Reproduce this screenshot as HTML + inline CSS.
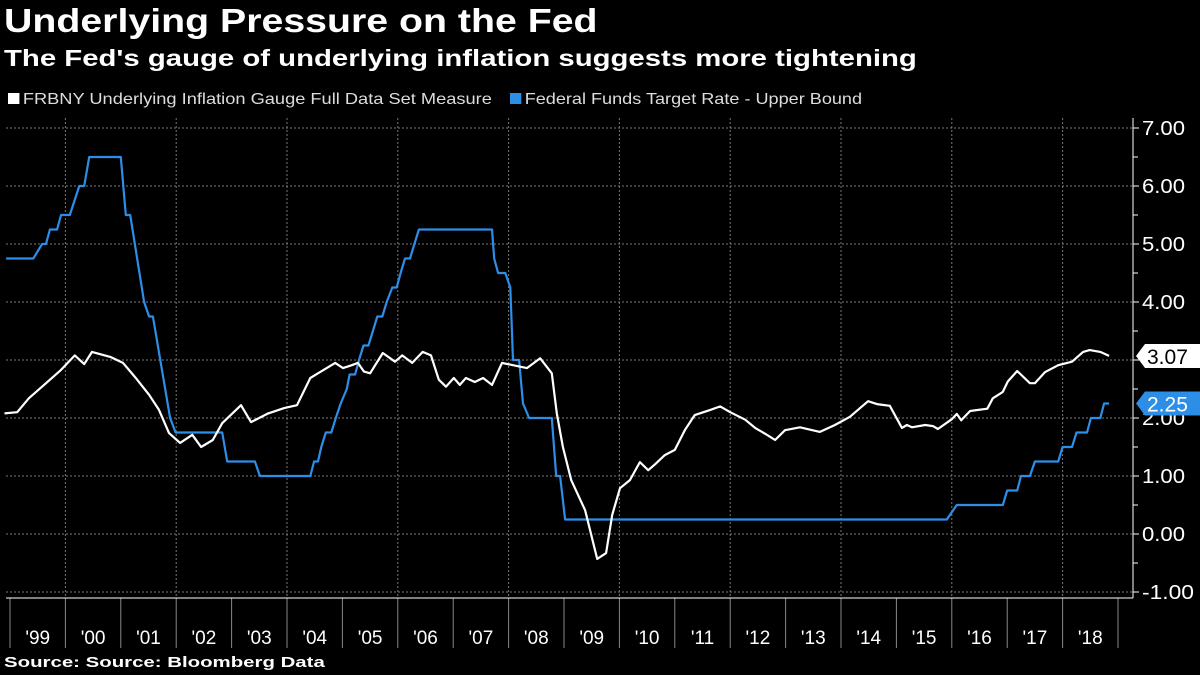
<!DOCTYPE html>
<html><head><meta charset="utf-8"><style>
html,body{margin:0;padding:0;background:#000;}
#wrap{position:relative;width:1200px;height:675px;background:#000;overflow:hidden;font-family:"Liberation Sans",sans-serif;color:#fff;}
.t{position:absolute;white-space:nowrap;transform-origin:0 0;}
</style></head><body>
<div id="wrap">
<div class="t" style="left:4px;top:2px;font-size:33px;font-weight:bold;transform:scaleX(1.19);">Underlying Pressure on the Fed</div>
<div class="t" style="left:4px;top:45px;font-size:23px;font-weight:bold;transform:scaleX(1.275);">The Fed's gauge of underlying inflation suggests more tightening</div>
<div class="t" style="left:8px;top:91px;font-size:16px;color:#ddd;transform:scaleX(1.14);"><span style="display:inline-block;width:10px;height:11px;background:#fff;margin-right:3px;"></span>FRBNY Underlying Inflation Gauge Full Data Set Measure</div>
<div class="t" style="left:510px;top:91px;font-size:16px;color:#ddd;transform:scaleX(1.13);"><span style="display:inline-block;width:10px;height:11px;background:#2d8ee8;margin-right:3px;"></span>Federal Funds Target Rate - Upper Bound</div>
<div class="t" style="left:4px;top:654px;font-size:15px;font-weight:bold;transform:scaleX(1.36);">Source: Source: Bloomberg Data</div>
<svg id="svg" width="1200" height="675" style="position:absolute;left:0;top:0;"></svg>
</div>
<script>
const yTicks=[7,6,5,4,3,2,1,0,-1];
const yTickLabels=["7.00","6.00","5.00","4.00","3.00","2.00","1.00","0.00","-1.00"];
const years=[1999,2000,2001,2002,2003,2004,2005,2006,2007,2008,2009,2010,2011,2012,2013,2014,2015,2016,2017,2018];
const yearLabels=["'99","'00","'01","'02","'03","'04","'05","'06","'07","'08","'09","'10","'11","'12","'13","'14","'15","'16","'17","'18"];
const gaugeDates=[1998.87,1999.13,1999.34,1999.65,1999.92,2000.17,2000.34,2000.48,2000.82,2001.04,2001.27,2001.51,2001.69,2001.87,2002.07,2002.29,2002.45,2002.66,2002.83,2003.17,2003.35,2003.66,2003.95,2004.18,2004.42,2004.56,2004.87,2005.01,2005.17,2005.28,2005.39,2005.5,2005.73,2005.95,2006.08,2006.26,2006.45,2006.6,2006.74,2006.87,2007.01,2007.12,2007.23,2007.39,2007.54,2007.7,2007.88,2008.08,2008.33,2008.57,2008.78,2008.87,2008.98,2009.13,2009.38,2009.6,2009.76,2009.87,2010.01,2010.19,2010.37,2010.52,2010.64,2010.82,2011.0,2011.18,2011.36,2011.64,2011.82,2012.0,2012.27,2012.45,2012.68,2012.81,2012.99,2013.26,2013.62,2013.89,2014.16,2014.49,2014.65,2014.88,2015.1,2015.19,2015.28,2015.52,2015.66,2015.75,2016.0,2016.09,2016.17,2016.33,2016.64,2016.74,2016.92,2017.01,2017.18,2017.41,2017.5,2017.68,2017.92,2018.17,2018.37,2018.49,2018.68,2018.84];
const gaugeValues=[2.08,2.1,2.34,2.6,2.83,3.08,2.93,3.14,3.05,2.95,2.69,2.4,2.14,1.74,1.57,1.71,1.5,1.62,1.91,2.22,1.93,2.08,2.17,2.22,2.69,2.77,2.95,2.86,2.91,2.95,2.8,2.77,3.12,2.97,3.08,2.95,3.14,3.08,2.66,2.54,2.69,2.57,2.69,2.62,2.69,2.57,2.95,2.91,2.86,3.03,2.77,2.08,1.5,0.93,0.41,-0.43,-0.33,0.33,0.79,0.93,1.24,1.1,1.2,1.36,1.45,1.79,2.05,2.14,2.2,2.1,1.97,1.83,1.7,1.62,1.79,1.84,1.76,1.88,2.02,2.29,2.24,2.21,1.83,1.88,1.84,1.88,1.86,1.81,1.98,2.07,1.96,2.12,2.16,2.34,2.45,2.63,2.81,2.6,2.6,2.79,2.91,2.97,3.14,3.17,3.14,3.07];
const fedDates=[1998.93,1999.42,1999.58,1999.65,1999.72,1999.85,1999.92,2000.08,2000.25,2000.34,2000.43,2001.0,2001.09,2001.17,2001.42,2001.51,2001.58,2001.89,2001.99,2002.83,2002.92,2003.42,2003.51,2004.42,2004.49,2004.56,2004.62,2004.7,2004.8,2004.88,2004.97,2005.08,2005.13,2005.23,2005.3,2005.38,2005.47,2005.55,2005.63,2005.72,2005.8,2005.9,2005.98,2006.05,2006.13,2006.22,2006.3,2006.38,2007.7,2007.74,2007.81,2007.94,2008.03,2008.08,2008.19,2008.26,2008.37,2008.78,2008.86,2008.93,2009.02,2015.91,2016.09,2016.92,2017.0,2017.18,2017.25,2017.41,2017.5,2017.92,2018.0,2018.17,2018.25,2018.44,2018.51,2018.68,2018.75,2018.84];
const fedValues=[4.75,4.75,5.0,5.0,5.25,5.25,5.5,5.5,6.0,6.0,6.5,6.5,5.5,5.5,4.0,3.75,3.75,2.0,1.75,1.75,1.25,1.25,1.0,1.0,1.25,1.25,1.5,1.75,1.75,2.0,2.25,2.5,2.75,2.75,3.0,3.25,3.25,3.5,3.75,3.75,4.0,4.25,4.25,4.5,4.75,4.75,5.0,5.25,5.25,4.75,4.5,4.5,4.25,3.0,3.0,2.25,2.0,2.0,1.0,1.0,0.25,0.25,0.5,0.5,0.75,0.75,1.0,1.0,1.25,1.25,1.5,1.5,1.75,1.75,2.0,2.0,2.25,2.25];
const lastGauge="3.07", lastFed="2.25";

const NS="http://www.w3.org/2000/svg";
const svg=document.getElementById('svg');
const X=t=>10+55.4*(t-1999);
const Y=v=>534-58*v;
const L=6,R=1133,T=118,B=598;
function mk(tag,attrs,parent){const e=document.createElementNS(NS,tag);for(const k in attrs)e.setAttribute(k,attrs[k]);(parent||svg).appendChild(e);return e;}
yTicks.forEach((v,i)=>{
  const g=mk('line',{x1:L,x2:R,y1:Y(v),y2:Y(v),stroke:'#777','stroke-width':1,'stroke-dasharray':'2,2'});
  
  
  const tk=mk('line',{x1:R,x2:R+6,y1:Y(v),y2:Y(v),stroke:'#fff'});
  
  
  if(i<yTicks.length-1){
    const mt=mk('line',{x1:R,x2:R+5,y1:Y(v-0.5),y2:Y(v-0.5),stroke:'#fff'});
    
    
  }
  const tx=mk('text',{x:R+9,y:Y(v)+7,fill:'#fff','font-size':20,'font-family':'Liberation Sans, sans-serif',textLength:yTickLabels[i].length>4?52:43,lengthAdjust:'spacingAndGlyphs'});
  tx.textContent=yTickLabels[i];
  
  
});
years.forEach((yr,i)=>{
  if(i%2===1){
    const g=mk('line',{x1:X(yr),x2:X(yr),y1:T,y2:B,stroke:'#777','stroke-width':1,'stroke-dasharray':'2,2'});
    
    
  }
  const s=mk('line',{x1:X(yr),x2:X(yr),y1:B,y2:648,stroke:'#888'});
  
  
  const tx=mk('text',{x:X(yr+0.5),y:644,fill:'#fff','font-size':19,'text-anchor':'middle','font-family':'Liberation Sans, sans-serif'});
  tx.textContent=yearLabels[i];
  
  
});
const es=mk('line',{x1:X(2019),x2:X(2019),y1:B,y2:648,stroke:'#888'});


const ax=mk('line',{x1:R,x2:R,y1:T,y2:B,stroke:'#fff'});


const bx=mk('line',{x1:L,x2:R,y1:B,y2:B,stroke:'#fff'});


const fp=mk('polyline',{points:fedDates.map((d,i)=>X(d).toFixed(1)+','+Y(fedValues[i]).toFixed(1)).join(' '),fill:'none',stroke:'#2d8ee8','stroke-width':2.2,'stroke-linejoin':'round'});


const gp=mk('polyline',{points:gaugeDates.map((d,i)=>X(Math.max(d,1998.9)).toFixed(1)+','+Y(gaugeValues[i]).toFixed(1)).join(' '),fill:'none',stroke:'#fff','stroke-width':2.2,'stroke-linejoin':'round'});


function tag(val,label,bg,fg,name){
  const y=Y(parseFloat(val));
  const p=mk('path',{d:`M${R+3},${y} L${R+12},${y-12} L1200,${y-12} L1200,${y+12} L${R+12},${y+12} Z`,fill:bg});
  
  
  const t=mk('text',{x:R+14,y:y+8,fill:fg,'font-size':21,'font-family':'Liberation Sans, sans-serif'});
  t.textContent=label;
  
  
}
tag(lastGauge,lastGauge,'#fff','#000','gauge-last-value');
tag(lastFed,lastFed,'#2d8ee8','#fff','fed-last-value');
</script>
</body></html>
